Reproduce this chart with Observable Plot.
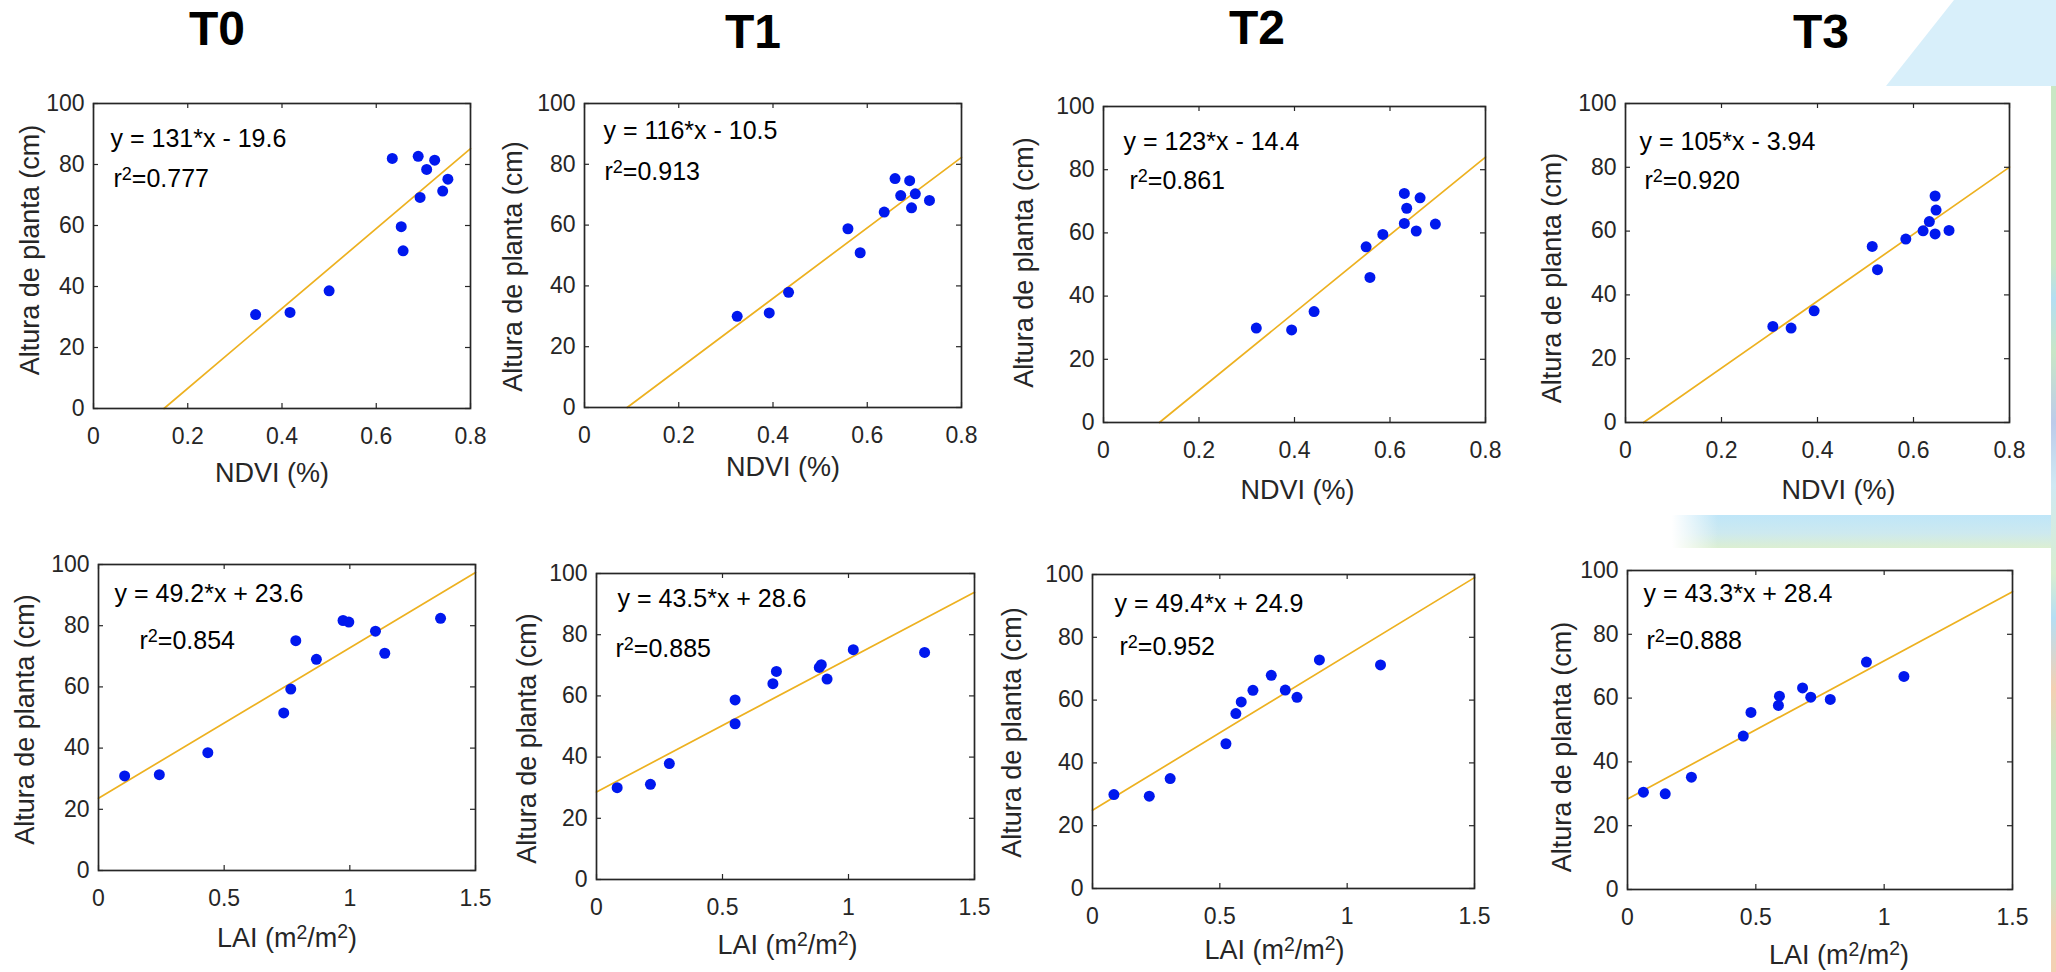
<!DOCTYPE html>
<html><head><meta charset="utf-8">
<script src="https://cdn.jsdelivr.net/npm/d3@7"></script>
<script src="https://cdn.jsdelivr.net/npm/@observablehq/plot@0.6"></script>
<style>
body{margin:0;background:#fff;}
#stage{position:relative;width:2056px;height:972px;overflow:hidden;background:#fff;font-family:"Liberation Sans",Arial,Helvetica,sans-serif;}
#stage svg{position:absolute;}
</style></head><body><div id="stage"></div><script>
// ---------------- data ----------------
const treatments = ["T0", "T1", "T2", "T3"];
const ndviTicks = [0, 0.2, 0.4, 0.6, 0.8];
const laiTicks = [0, 0.5, 1, 1.5];
const alturaTicks = [0, 20, 40, 60, 80, 100];
const yLabel = "Altura de planta (cm)";
const ndviLabel = "NDVI (%)";
const laiLabel = "LAI (m²/m²)";

// NDVI vs altura
const ndvi_T0 = [0.344, 0.417, 0.500, 0.634, 0.689, 0.724, 0.707, 0.752, 0.741, 0.693, 0.653, 0.657];
const alt_ndvi_T0 = [30.8, 31.5, 38.6, 82.0, 82.7, 81.4, 78.4, 75.2, 71.3, 69.2, 59.6, 51.7];
const ndvi_T1 = [0.324, 0.392, 0.433, 0.559, 0.585, 0.636, 0.659, 0.690, 0.671, 0.702, 0.694, 0.732];
const alt_ndvi_T1 = [30.0, 31.1, 37.9, 58.8, 50.9, 64.3, 75.3, 74.6, 69.7, 70.3, 65.7, 68.1];
const ndvi_T2 = [0.320, 0.394, 0.441, 0.550, 0.558, 0.585, 0.630, 0.635, 0.630, 0.663, 0.655, 0.695];
const alt_ndvi_T2 = [29.9, 29.3, 35.1, 55.6, 45.9, 59.5, 72.5, 67.8, 63.0, 71.1, 60.6, 62.8];
const ndvi_T3 = [0.307, 0.345, 0.393, 0.514, 0.525, 0.584, 0.620, 0.633, 0.645, 0.647, 0.645, 0.674];
const alt_ndvi_T3 = [30.1, 29.6, 35.0, 55.2, 47.9, 57.5, 60.1, 63.0, 71.0, 66.6, 59.1, 60.2];

// LAI vs altura
const lai_T0 = [0.104, 0.242, 0.435, 0.737, 0.765, 0.785, 0.867, 0.973, 0.996, 1.102, 1.139, 1.361];
const alt_lai_T0 = [30.9, 31.3, 38.5, 51.5, 59.3, 75.1, 69.0, 81.7, 81.2, 78.2, 71.0, 82.4];
const lai_T1 = [0.082, 0.214, 0.289, 0.550, 0.550, 0.700, 0.714, 0.884, 0.892, 0.915, 1.019, 1.302];
const alt_lai_T1 = [30.0, 31.1, 37.9, 58.7, 50.9, 64.0, 68.0, 69.3, 70.2, 65.5, 75.1, 74.2];
const lai_T2 = [0.084, 0.223, 0.305, 0.524, 0.563, 0.584, 0.630, 0.702, 0.757, 0.803, 0.891, 1.131];
const alt_lai_T2 = [29.9, 29.4, 35.0, 46.1, 55.7, 59.4, 63.1, 67.9, 63.2, 60.9, 72.8, 71.2];
const lai_T3 = [0.062, 0.147, 0.249, 0.451, 0.481, 0.588, 0.592, 0.682, 0.714, 0.790, 0.931, 1.077];
const alt_lai_T3 = [30.5, 30.0, 35.2, 48.1, 55.5, 57.7, 60.6, 63.2, 60.3, 59.6, 71.3, 66.8];

// fitted equations
const slopeNdvi = [131, 116, 123, 105];
const interceptNdvi = [-19.6, -10.5, -14.4, -3.94];
const r2Ndvi = [0.777, 0.913, 0.861, 0.920];
const slopeLai = [49.2, 43.5, 49.4, 43.3];
const interceptLai = [23.6, 28.6, 24.9, 28.4];
const r2Lai = [0.854, 0.885, 0.952, 0.888];

// ---------------- layout (pixel positions of each panel) ----------------
const layouts = [
  {frame:[93,103,470,408],   eq:[17,26], r2:[20,66], ylab:[-63,-6], xlab:[-10,54]},
  {frame:[584,103,961,407],  eq:[19,18], r2:[20,59], ylab:[-71,11], xlab:[10,49]},
  {frame:[1103,106,1485,422],eq:[20,26], r2:[26,65], ylab:[-79,-2], xlab:[3,57]},
  {frame:[1625,103,2009,422],eq:[14,29], r2:[19,68], ylab:[-73,15], xlab:[21,57]},
  {frame:[98,564,475,870],   eq:[16,20], r2:[41,67], ylab:[-73,2],  xlab:[0,57]},
  {frame:[596,573,974,879],  eq:[21,16], r2:[19,66], ylab:[-69,12], xlab:[2,55]},
  {frame:[1092,574,1474,888],eq:[22,20], r2:[27,63], ylab:[-80,1],  xlab:[-9,51]},
  {frame:[1627,570,2012,889],eq:[16,14], r2:[19,61], ylab:[-65,17], xlab:[19,55]}
];
const titlePos = [[189,45],[725,48],[1229,44],[1793,48]];
const ML = 90, MR = 30, MT = 30, MB = 90;
const FONT = '"Liberation Sans", Arial, Helvetica, sans-serif';
const INK = "#262626";

const stage = document.getElementById("stage");

// background decoration + column titles
const ns = "http://www.w3.org/2000/svg";
const bg = document.createElementNS(ns, "svg");
bg.setAttribute("width", 2056); bg.setAttribute("height", 972);
bg.style.left = "0px"; bg.style.top = "0px";
bg.innerHTML = `
<defs>
 <linearGradient id="band" x1="0" y1="0" x2="0" y2="1">
  <stop offset="0" stop-color="#bfe6f8"/><stop offset="0.55" stop-color="#cde9ef"/><stop offset="1" stop-color="#dcefd2"/>
 </linearGradient>
 <linearGradient id="bandfade" x1="0" y1="0" x2="1" y2="0">
  <stop offset="0" stop-color="#fff" stop-opacity="1"/><stop offset="0.12" stop-color="#fff" stop-opacity="0"/>
 </linearGradient>
 <linearGradient id="strip" x1="0" y1="0" x2="0" y2="1">
  <stop offset="0" stop-color="#c9e7c4"/><stop offset="0.2" stop-color="#c9e7c4"/>
  <stop offset="0.24" stop-color="#b3def2"/><stop offset="0.3" stop-color="#c8e6c6"/>
  <stop offset="0.38" stop-color="#bccbea"/><stop offset="0.45" stop-color="#cfe9f3"/>
  <stop offset="0.55" stop-color="#d8eed0"/><stop offset="0.6" stop-color="#b5def3"/>
  <stop offset="0.68" stop-color="#f3d0b3"/><stop offset="0.76" stop-color="#c8e7c4"/>
  <stop offset="0.9" stop-color="#c8e7c4"/><stop offset="0.95" stop-color="#f3d0b3"/><stop offset="1" stop-color="#f3d0b3"/>
 </linearGradient>
</defs>
<polygon points="1954,0 2056,0 2056,86 1886,86" fill="#d8effa"/>
<rect x="1672" y="515" width="384" height="33" fill="url(#band)"/>
<rect x="1672" y="515" width="384" height="33" fill="url(#bandfade)"/>
<rect x="2051" y="86" width="5" height="886" fill="url(#strip)"/>
`;
stage.appendChild(bg);
treatments.forEach((t, i) => {
  const tx = document.createElementNS(ns, "text");
  tx.setAttribute("x", titlePos[i][0]);
  tx.setAttribute("y", titlePos[i][1]);
  tx.setAttribute("font-family", FONT);
  tx.setAttribute("font-weight", "bold");
  tx.setAttribute("font-size", 48);
  tx.setAttribute("fill", "#000");
  tx.textContent = t;
  bg.appendChild(tx);
});

function fmtEq(m, b) {
  return `y = ${m}*x ${b < 0 ? "-" : "+"} ${Math.abs(b)}`;
}

// turn "²" into a raised, smaller "2" (still real text)
function superscripts(svg) {
  svg.querySelectorAll("text").forEach(t => {
    if (!t.textContent.includes("²") || t.querySelector("tspan")) return;
    const parts = t.textContent.split("²");
    t.textContent = "";
    parts.forEach((p, k) => {
      if (k === 0) {
        if (p) t.appendChild(document.createTextNode(p));
      } else if (p) {
        const back = document.createElementNS(ns, "tspan");
        back.setAttribute("dy", "0.3em");
        back.textContent = p;
        t.appendChild(back);
      }
      if (k < parts.length - 1) {
        const s = document.createElementNS(ns, "tspan");
        s.setAttribute("dy", "-0.42em");
        s.setAttribute("font-size", "72%");
        s.textContent = "2";
        t.appendChild(s);
      }
    });
  });
}

function panel(idx, xs, ys, m, b, r2, xDomain, xTicks, xLab) {
  const L = layouts[idx];
  const [fx0, fy0, fx1, fy1] = L.frame;
  const fw = fx1 - fx0, fh = fy1 - fy0;
  const pts = xs.map((x, j) => ({x, y: ys[j]}));
  const xStart = Math.max(xDomain[0], -b / m);
  const fit = [xStart, xDomain[1]].map(x => ({x, y: m * x + b}));
  const tick = 5;
  const chart = Plot.plot({
    width: fw + ML + MR,
    height: fh + MT + MB,
    marginLeft: ML, marginRight: MR, marginTop: MT, marginBottom: MB,
    style: {background: "transparent", color: INK, fontFamily: FONT, overflow: "visible"},
    x: {domain: xDomain},
    y: {domain: [0, 100]},
    marks: [
      Plot.line(fit, {x: "x", y: "y", stroke: "#EDB120", strokeWidth: 1.7}),
      Plot.dot(pts, {x: "x", y: "y", r: 5.5, fill: "#0018ee", stroke: "none"}),
      Plot.tickX(xTicks, {x: d => d, insetTop: fh - tick, stroke: INK, strokeWidth: 1.2}),
      Plot.tickX(xTicks, {x: d => d, insetBottom: fh - tick, stroke: INK, strokeWidth: 1.2}),
      Plot.tickY(alturaTicks, {y: d => d, insetRight: fw - tick, stroke: INK, strokeWidth: 1.2}),
      Plot.tickY(alturaTicks, {y: d => d, insetLeft: fw - tick, stroke: INK, strokeWidth: 1.2}),
      Plot.frame({stroke: INK, strokeWidth: 1.7}),
      Plot.axisX({ticks: xTicks, tickSize: 0, tickPadding: 19, tickFormat: d => String(d), label: null, fontSize: 23}),
      Plot.axisY({ticks: alturaTicks, tickSize: 0, tickPadding: 9, tickFormat: d => String(d), label: null, fontSize: 23}),
      Plot.text([fmtEq(m, b)], {text: d => d, frameAnchor: "top-left", dx: L.eq[0], dy: L.eq[1], textAnchor: "start", lineAnchor: "top", fontSize: 25, fill: "#000"}),
      Plot.text([`r²=${r2.toFixed(3)}`], {text: d => d, frameAnchor: "top-left", dx: L.r2[0], dy: L.r2[1], textAnchor: "start", lineAnchor: "top", fontSize: 25, fill: "#000"}),
      Plot.text([xLab], {text: d => d, frameAnchor: "bottom", dx: L.xlab[0], dy: L.xlab[1], textAnchor: "middle", lineAnchor: "top", fontSize: 27, fill: INK}),
      Plot.text([yLabel], {text: d => d, frameAnchor: "left", dx: L.ylab[0], dy: L.ylab[1], rotate: -90, textAnchor: "middle", lineAnchor: "middle", fontSize: 27, fill: INK})
    ]
  });
  superscripts(chart);
  chart.style.left = (fx0 - ML) + "px";
  chart.style.top = (fy0 - MT) + "px";
  stage.appendChild(chart);
}

const ndviX = [ndvi_T0, ndvi_T1, ndvi_T2, ndvi_T3];
const ndviY = [alt_ndvi_T0, alt_ndvi_T1, alt_ndvi_T2, alt_ndvi_T3];
const laiX = [lai_T0, lai_T1, lai_T2, lai_T3];
const laiY = [alt_lai_T0, alt_lai_T1, alt_lai_T2, alt_lai_T3];

treatments.forEach((t, i) => {
  panel(i, ndviX[i], ndviY[i], slopeNdvi[i], interceptNdvi[i], r2Ndvi[i], [0, 0.8], ndviTicks, ndviLabel);
  panel(i + 4, laiX[i], laiY[i], slopeLai[i], interceptLai[i], r2Lai[i], [0, 1.5], laiTicks, laiLabel);
});
</script></body></html>
